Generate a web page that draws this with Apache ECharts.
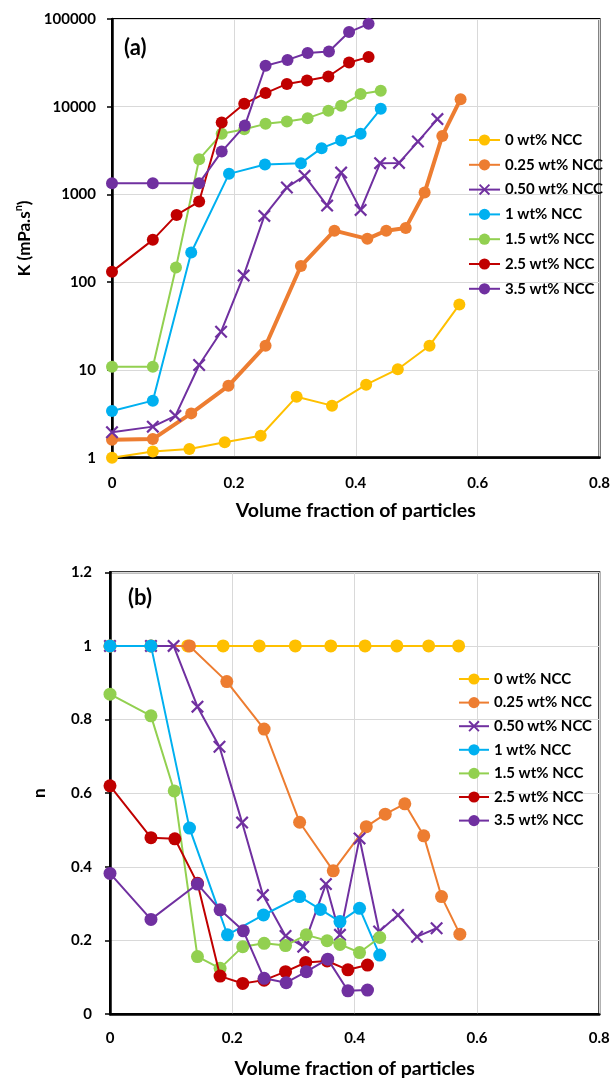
<!DOCTYPE html>
<html><head><meta charset="utf-8">
<script src="https://cdn.jsdelivr.net/npm/echarts@6/dist/echarts.min.js"></script>
<style>html,body{margin:0;padding:0;background:#fff}#c{width:613px;height:1081px}</style>
</head><body><div id="c"></div>
<script>
const seriesNames = ['0 wt% NCC','0.25 wt% NCC','0.50 wt% NCC','1 wt% NCC','1.5 wt% NCC','2.5 wt% NCC','3.5 wt% NCC'];
const xTicks = [0, 0.2, 0.4, 0.6, 0.8];

const x0 = [0, 0.067, 0.127, 0.185, 0.244, 0.303, 0.361, 0.417, 0.469, 0.521, 0.570];
const k0 = [1.0, 1.18, 1.26, 1.5, 1.78, 4.96, 3.92, 6.8, 10.2, 18.9, 55.6];
const n0 = [1, 1, 1, 1, 1, 1, 1, 1, 1, 1, 1];

const x025 = [0, 0.067, 0.130, 0.191, 0.252, 0.310, 0.365, 0.419, 0.450, 0.482, 0.513, 0.542, 0.572];
const k025 = [1.6, 1.63, 3.2, 6.6, 18.9, 153, 387, 312, 387, 416, 1052, 4650, 12200];
const n025 = [1, 1, 1, 0.903, 0.774, 0.521, 0.389, 0.509, 0.543, 0.571, 0.484, 0.319, 0.217];

const x050 = [0, 0.067, 0.104, 0.143, 0.179, 0.216, 0.250, 0.287, 0.316, 0.353, 0.376, 0.408, 0.440, 0.471, 0.502, 0.534];
const k050 = [1.95, 2.26, 3.0, 11.4, 27.3, 119, 570, 1200, 1630, 747, 1777, 667, 2276, 2290, 4010, 7230];
const n050 = [1, 1, 1, 0.835, 0.726, 0.520, 0.323, 0.212, 0.183, 0.353, 0.215, 0.477, 0.224, 0.269, 0.210, 0.233];

const x1 = [0, 0.067, 0.130, 0.192, 0.251, 0.310, 0.344, 0.376, 0.408, 0.441];
const k1 = [3.4, 4.47, 218, 1718, 2193, 2275, 3374, 4120, 4910, 9460];
const n1 = [1, 1, 0.505, 0.215, 0.269, 0.319, 0.284, 0.251, 0.287, 0.160];

const x15 = [0, 0.067, 0.105, 0.143, 0.180, 0.217, 0.252, 0.287, 0.321, 0.355, 0.376, 0.408, 0.441];
const k15 = [10.9, 10.9, 147, 2525, 4910, 5550, 6380, 6780, 7410, 8980, 10240, 13930, 15180];
const n15 = [0.869, 0.81, 0.606, 0.156, 0.124, 0.183, 0.192, 0.186, 0.215, 0.199, 0.189, 0.167, 0.208];

const x25 = [0, 0.067, 0.106, 0.143, 0.180, 0.217, 0.252, 0.287, 0.320, 0.355, 0.389, 0.421];
const k25 = [132, 304, 585, 830, 6600, 10800, 14300, 18200, 19900, 22100, 31900, 36800];
const n25 = [0.62, 0.479, 0.476, 0.355, 0.103, 0.083, 0.092, 0.115, 0.14, 0.144, 0.12, 0.133];

const x35 = [0, 0.067, 0.143, 0.180, 0.218, 0.252, 0.288, 0.321, 0.356, 0.389, 0.421];
const k35 = [1345, 1345, 1345, 3080, 6100, 29300, 34200, 40900, 42600, 71000, 88100];
const n35 = [0.382, 0.257, 0.353, 0.283, 0.226, 0.097, 0.085, 0.115, 0.149, 0.063, 0.065];

const xs = [x0, x025, x050, x1, x15, x25, x35];
const ks = [k0, k025, k050, k1, k15, k25, k35];
const ns = [n0, n025, n050, n1, n15, n25, n35];
const colors = ['#FFC000', '#ED7D31', '#7030A0', '#00B0F0', '#92D050', '#C00000', '#7030A0'];
const XSYM = 'path://M0,1.2 L1.2,0 L5,3.8 L8.8,0 L10,1.2 L6.2,5 L10,8.8 L8.8,10 L5,6.2 L1.2,10 L0,8.8 L3.8,5 Z';

const FONT = 'Lato';
const chart = echarts.init(document.getElementById('c'));

const series = [];
seriesNames.forEach((name, i) => {
  const isX = i === 2;
  const common = {
    name, type: 'line', color: colors[i],
    symbol: isX ? XSYM : 'circle',
    itemStyle: { color: colors[i] },
    z: 2 + i,
    animation: false
  };
  series.push(Object.assign({}, common, {
    xAxisIndex: 0, yAxisIndex: 0,
    symbolSize: isX ? 13 : 12,
    lineStyle: { width: i === 1 ? 4 : 2, color: colors[i] },
    data: xs[i].map((x, j) => [x, ks[i][j]])
  }));
  series.push(Object.assign({}, common, {
    xAxisIndex: 1, yAxisIndex: 1,
    symbolSize: 13,
    lineStyle: { width: 2, color: colors[i] },
    data: xs[i].map((x, j) => [x, ns[i][j]])
  }));
});

const axisLabelStyle = { fontFamily: FONT, fontWeight: 'bold', fontSize: 15, color: '#000' };
const gridLine = { show: true, lineStyle: { color: '#d9d9d9', width: 1 } };
const nameStyle = { fontFamily: FONT, fontWeight: 'bold', fontSize: 17, color: '#000' };
const xNameStyle = { fontFamily: FONT, fontWeight: 'bold', fontSize: 19.5, color: '#000' };

function xAxisDef(gi, margin, gap) {
  return {
    type: 'value', gridIndex: gi, min: 0, max: 0.8, interval: 0.2,
    name: 'Volume fraction of particles', nameLocation: 'middle', nameGap: gap,
    nameTextStyle: xNameStyle,
    axisLine: { show: true, onZero: false, lineStyle: { color: '#000', width: 2.5 } },
    axisTick: { show: false },
    axisLabel: Object.assign({ margin }, axisLabelStyle),
    splitLine: gridLine
  };
}

const legendText = { fontFamily: FONT, fontWeight: 'bold', fontSize: 15, color: '#000', lineHeight: 18 };
const panelLabel = { fontFamily: FONT, fontWeight: 'bold', fontSize: 22, color: '#000' };

chart.setOption({
  backgroundColor: '#fff',
  animation: false,
  title: [
    { text: '(a)', left: 119, top: 32, textStyle: panelLabel },
    { text: '(b)', left: 123, top: 582, textStyle: panelLabel }
  ],
  grid: [
    { left: 112, top: 19, width: 491, height: 438.7, show: true, borderColor: '#000', borderWidth: 2, backgroundColor: 'transparent' },
    { left: 110, top: 572.3, width: 489.3, height: 441.7, show: true, borderColor: '#000', borderWidth: 2, backgroundColor: 'transparent' }
  ],
  xAxis: [xAxisDef(0, 18, 43), xAxisDef(1, 17, 45)],
  yAxis: [
    {
      type: 'log', logBase: 10, gridIndex: 0, min: 1, max: 100000,
      name: '{a|K (mPa.s}{s|n}{a|)}', nameLocation: 'middle', nameGap: 74, nameRotate: 90,
      nameTextStyle: { rich: {
        a: { fontFamily: FONT, fontWeight: 'bold', fontSize: 17, color: '#000', lineHeight: 22 },
        s: { fontFamily: FONT, fontWeight: 'bold', fontSize: 11, color: '#000', lineHeight: 22, verticalAlign: 'top', padding: [0, 0, 8, 0] }
      } },
      axisLine: { show: true, lineStyle: { color: '#000', width: 2.5 } },
      axisTick: { show: true, inside: false, length: 5, lineStyle: { color: '#000', width: 1.5 } },
      axisLabel: Object.assign({ margin: 16, formatter: v => String(Math.round(v)) }, axisLabelStyle),
      splitLine: gridLine
    },
    {
      type: 'value', gridIndex: 1, min: 0, max: 1.2, interval: 0.2,
      name: 'n', nameLocation: 'middle', nameGap: 62, nameRotate: 90,
      nameTextStyle: nameStyle,
      axisLine: { show: true, onZero: false, lineStyle: { color: '#000', width: 2.5 } },
      axisTick: { show: true, inside: false, length: 5, lineStyle: { color: '#000', width: 1.5 } },
      axisLabel: Object.assign({ margin: 18, formatter: v => String(Math.round(v * 10) / 10) }, axisLabelStyle),
      splitLine: gridLine
    }
  ],
  legend: [
    {
      orient: 'vertical', left: 463, top: 126, itemWidth: 31, itemHeight: 14, itemGap: 6.8,
      textStyle: legendText, data: seriesNames.slice()
    },
    {
      orient: 'vertical', left: 453, top: 665, itemWidth: 30, itemHeight: 14, itemGap: 5.6,
      textStyle: legendText,
      data: seriesNames.map((n, i) => i === 1 ? { name: n, lineStyle: { width: 2 } } : n)
    }
  ],
  series
});
</script></body></html>
